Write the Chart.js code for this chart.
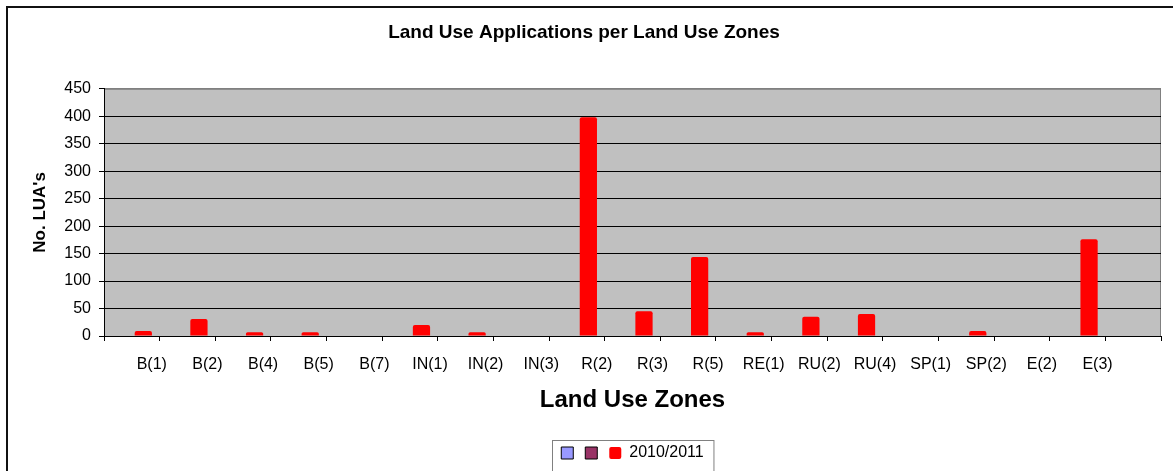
<!DOCTYPE html>
<html>
<head>
<meta charset="utf-8">
<title>Land Use Applications per Land Use Zones</title>
<script src="https://cdn.jsdelivr.net/npm/chart.js@4.4.1/dist/chart.umd.min.js"></script>
<style>
  html, body { margin: 0; padding: 0; background: #fff; }
  canvas { display: block; }
</style>
</head>
<body>
<canvas id="chart" width="1173" height="471"></canvas>
<script>
// Land use zones (last slot is an empty category, as in the original sheet)
const zones = ["B(1)", "B(2)", "B(4)", "B(5)", "B(7)", "IN(1)", "IN(2)", "IN(3)", "R(2)", "R(3)",
  "R(5)", "RE(1)", "RU(2)", "RU(4)", "SP(1)", "SP(2)", "E(2)", "E(3)", ""];

// No. of LUA's for 2010/2011
const lua2010 = [9, 31, 7, 7, 0, 20, 7, 0, 398, 45, 144, 7, 35, 40, 0, 9, 0, 176, null];

// two unnamed series that have no values
const emptySeriesA = zones.map(() => null);
const emptySeriesB = zones.map(() => null);

const yMin = 0;
const yMax = 450;
const yStep = 50;

Chart.defaults.font.family = "'Liberation Sans', Arial, sans-serif";
Chart.defaults.color = "#000";

// Grey plot area, outer frame and the legend box
const chartFrame = {
  id: "chartFrame",
  beforeDraw(chart) {
    const { ctx, chartArea: a } = chart;
    ctx.save();
    ctx.fillStyle = "#fff";
    ctx.fillRect(0, 0, chart.width, chart.height);
    ctx.strokeStyle = "#111";
    ctx.lineWidth = 2;
    ctx.strokeRect(7, 7, chart.width + 20, chart.height + 20);
    ctx.fillStyle = "#c0c0c0";
    ctx.fillRect(a.left, a.top, a.right - a.left, a.bottom - a.top);
    ctx.strokeStyle = "#808080";
    ctx.lineWidth = 1;
    ctx.strokeRect(a.left + 0.5, a.top + 0.5, a.right - a.left - 1, a.bottom - a.top);
    ctx.restore();
  },
  afterDraw(chart) {
    const boxes = chart.legend.legendHitBoxes;
    if (!boxes || !boxes.length) return;
    const left = Math.min(...boxes.map(b => b.left)) - 9;
    const right = Math.max(...boxes.map(b => b.left + b.width)) + 10;
    const top = chart.legend.top - 1;
    const { ctx } = chart;
    ctx.save();
    ctx.strokeStyle = "#808080";
    ctx.lineWidth = 1;
    ctx.strokeRect(Math.round(left) + 0.5, Math.round(top) + 0.5, right - left, chart.height);
    ctx.restore();
  }
};

new Chart(document.getElementById("chart").getContext("2d"), {
  type: "bar",
  data: {
    labels: zones,
    datasets: [
      {
        label: "",
        data: emptySeriesA,
        backgroundColor: "#9999ff",
        borderColor: "#000",
        borderWidth: 1
      },
      {
        label: "",
        data: emptySeriesB,
        backgroundColor: "#993366",
        borderColor: "#000",
        borderWidth: 1
      },
      {
        label: "2010/2011",
        data: lua2010,
        backgroundColor: "#ff0000",
        borderColor: "#ff0000",
        borderWidth: 0,
        borderRadius: 2
      }
    ]
  },
  options: {
    responsive: false,
    animation: false,
    categoryPercentage: 0.62,
    barPercentage: 1.5,
    layout: {
      padding: { left: 7, right: 12, top: 0, bottom: 0 }
    },
    plugins: {
      tooltip: { enabled: false },
      title: {
        display: true,
        text: "Land Use Applications per Land Use Zones",
        color: "#000",
        font: { size: 19, weight: "bold" },
        padding: { top: 21, bottom: 45 }
      },
      legend: {
        position: "bottom",
        fullSize: false,
        labels: {
          boxWidth: 12,
          boxHeight: 12,
          padding: 4,
          useBorderRadius: true,
          color: "#000",
          font: { size: 16 }
        }
      }
    },
    scales: {
      x: {
        afterFit(scale) {
          scale.height = 105;
        },
        grid: {
          drawOnChartArea: false,
          color: "#000",
          tickLength: 5
        },
        border: { color: "#000" },
        ticks: {
          autoSkip: false,
          maxRotation: 0,
          minRotation: 0,
          padding: 14,
          labelOffset: 20,
          font: { size: 16 }
        },
        title: {
          display: true,
          text: "Land Use Zones",
          font: { size: 24, weight: "bold" },
          padding: { top: 0, bottom: 26 }
        }
      },
      y: {
        min: yMin,
        max: yMax,
        afterFit(scale) {
          scale.width = 97;
        },
        grid: {
          color: ctx => (ctx.tick && ctx.tick.value === yMax ? "#808080" : "#000"),
          tickColor: "#000",
          tickLength: 5
        },
        border: { color: "#000" },
        ticks: {
          stepSize: yStep,
          padding: 8,
          font: { size: 16 }
        },
        title: {
          display: true,
          text: "No. LUA's",
          font: { size: 17, weight: "bold" },
          padding: { top: 23, bottom: 0 }
        }
      }
    }
  },
  plugins: [chartFrame]
});
</script>
</body>
</html>
